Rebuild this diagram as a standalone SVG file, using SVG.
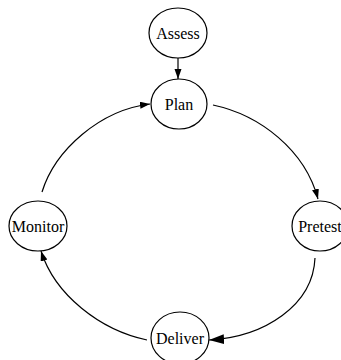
<svg xmlns="http://www.w3.org/2000/svg" width="341" height="360" viewBox="0 0 341 360">
  <style>
    .node ellipse { fill: #ffffff; stroke: #000000; stroke-width: 1.2; }
    .node text { font-family: "Liberation Serif", "Times New Roman", serif; font-size: 16px; fill: #000000; text-anchor: middle; dominant-baseline: central; }
    .edge { fill: none; stroke: #000000; stroke-width: 1.2; }
  </style>
  <defs>
    <marker id="arrow" markerUnits="userSpaceOnUse" markerWidth="10" markerHeight="8" refX="10" refY="3.5" orient="auto">
      <path d="M0,0 L10,3.5 L0,7 z" fill="#000000"/>
    </marker>
    <marker id="arrowBig" markerUnits="userSpaceOnUse" markerWidth="16" markerHeight="11" refX="15" refY="5" orient="auto">
      <path d="M0,0 L15,5 L0,10 z" fill="#000000"/>
    </marker>
  </defs>

  <rect width="341" height="360" fill="#ffffff"/>

  <g id="connectors">
    <path class="edge" d="M178,58 L178,79" marker-end="url(#arrow)"/>
    <path class="edge" d="M213,105 C260,115 305,150 318,199" marker-end="url(#arrow)"/>
    <path class="edge" d="M315,258 C313,305 265,337 209,340" marker-end="url(#arrowBig)"/>
    <path class="edge" d="M147,340 C100,330 55,295 41,251" marker-end="url(#arrow)"/>
    <path class="edge" d="M42,192 C55,150 100,110 150,104" marker-end="url(#arrow)"/>
  </g>

  <g id="assess" class="node">
    <ellipse cx="178" cy="33" rx="29" ry="25"/>
    <text x="178" y="33">Assess</text>
  </g>
  <g id="plan" class="node">
    <ellipse cx="179" cy="104" rx="28" ry="25"/>
    <text x="179" y="104">Plan</text>
  </g>
  <g id="pretest" class="node">
    <ellipse cx="320" cy="226" rx="28" ry="25"/>
    <text x="320" y="226">Pretest</text>
  </g>
  <g id="deliver" class="node">
    <ellipse cx="180" cy="338" rx="29" ry="26"/>
    <text x="180" y="338">Deliver</text>
  </g>
  <g id="monitor" class="node">
    <ellipse cx="38" cy="226" rx="29" ry="25"/>
    <text x="38" y="226">Monitor</text>
  </g>
</svg>
